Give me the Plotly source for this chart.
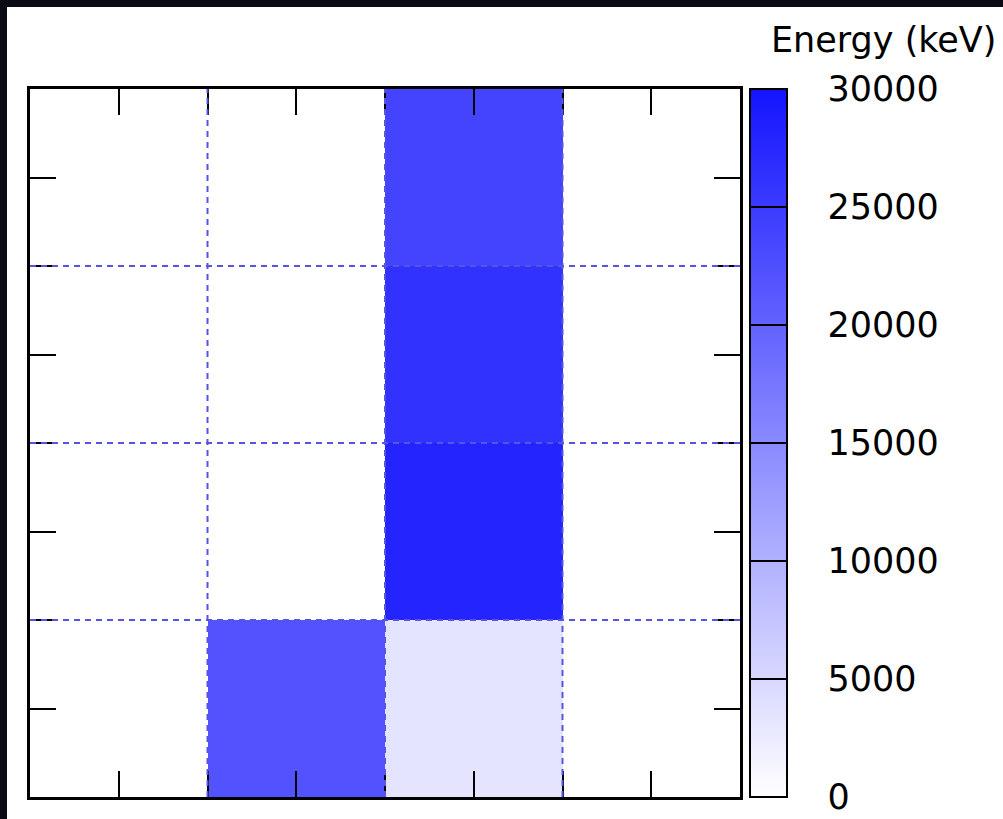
import plotly.graph_objects as go

# ---- data ----
x_centers = [0.5, 1.5, 2.5, 3.5]
y_centers = [0.5, 1.5, 2.5, 3.5]
row_y0 = [0, 22100, 3400, 0]
row_y1 = [0, 0, 28000, 0]
row_y2 = [0, 0, 26200, 0]
row_y3 = [0, 0, 23900, 0]
cb_ticks = [0, 5000, 10000, 15000, 20000, 25000, 30000]
grid_vals = [1, 2, 3]
cb_title = "Energy (keV)"

z = [row_y0, row_y1, row_y2, row_y3]
cscale = [[0, "rgb(255,255,255)"], [1, "rgb(20,20,255)"]]

W, H = 1003, 819
L, R, T, B = 30, 263, 89, 22
pw = W - L - R
ph = H - T - B

def px_x(p):
    return (p - L) / pw

def px_y(p):
    return (H - B - p) / ph

FONT = "DejaVu Sans"

fig = go.Figure()
# labelled colorbar
fig.add_trace(go.Heatmap(
    x=x_centers, y=y_centers, z=z, zmin=0, zmax=30000, colorscale=cscale,
    hoverinfo="skip",
    colorbar=dict(
        x=px_x(750), xanchor="left", xref="paper", y=0.5, yanchor="middle",
        len=1, lenmode="fraction", thickness=37, xpad=0, ypad=0,
        outlinewidth=2, outlinecolor="black",
        tickvals=cb_ticks, tickformat="d", ticks="outside", ticklen=33,
        tickcolor="rgba(0,0,0,0)",
        tickfont=dict(family=FONT, size=35, color="black"),
    ),
))
# overlay colorbar with tick lines across the bar
fig.add_trace(go.Heatmap(
    x=x_centers, y=y_centers, z=z, zmin=0, zmax=30000, colorscale=cscale,
    hoverinfo="skip",
    colorbar=dict(
        x=px_x(750), xanchor="left", xref="paper", y=0.5, yanchor="middle",
        len=1, lenmode="fraction", thickness=37, xpad=0, ypad=0,
        outlinewidth=2, outlinecolor="black",
        tickvals=cb_ticks, ticks="inside", ticklen=37, tickcolor="black", tickwidth=2,
        showticklabels=False,
    ),
))

shapes = [dict(type="rect", xref="paper", yref="paper",
               x0=px_x(7), x1=px_x(1010), y0=px_y(830), y1=px_y(7),
               fillcolor="white", line=dict(width=0), layer="below")]
for g in grid_vals:
    shapes.append(dict(type="line", xref="x", yref="paper", x0=g, x1=g, y0=0, y1=1,
                       line=dict(color="rgb(85,85,225)", width=2, dash="6px,5px"), layer="above"))
    shapes.append(dict(type="line", xref="paper", yref="y", x0=0, x1=1, y0=g, y1=g,
                       line=dict(color="rgb(85,85,225)", width=2, dash="6px,5px"), layer="above"))

axis_common = dict(
    range=[0, 4], showgrid=False, zeroline=False, showline=True, linecolor="black",
    linewidth=2.5, mirror="ticks", ticks="inside", ticklen=26, tickwidth=2,
    tickcolor="black", tick0=0, dtick=0.5, showticklabels=False, layer="above traces",
    fixedrange=True,
)

fig.update_layout(
    width=W, height=H,
    margin=dict(l=L, r=R, t=T, b=B),
    paper_bgcolor="#0b0b16",
    plot_bgcolor="white",
    xaxis=dict(**axis_common),
    yaxis=dict(**axis_common),
    shapes=shapes,
    annotations=[dict(text=cb_title, xref="paper", yref="paper",
                      x=px_x(998), y=px_y(40), xanchor="right", yanchor="middle",
                      showarrow=False, font=dict(family=FONT, size=35, color="black"))],
    showlegend=False,
)

fig.write_html(
    "out.html",
    config={"displayModeBar": False},
    post_script="document.body.style.margin='0';document.body.style.overflow='hidden';",
)
